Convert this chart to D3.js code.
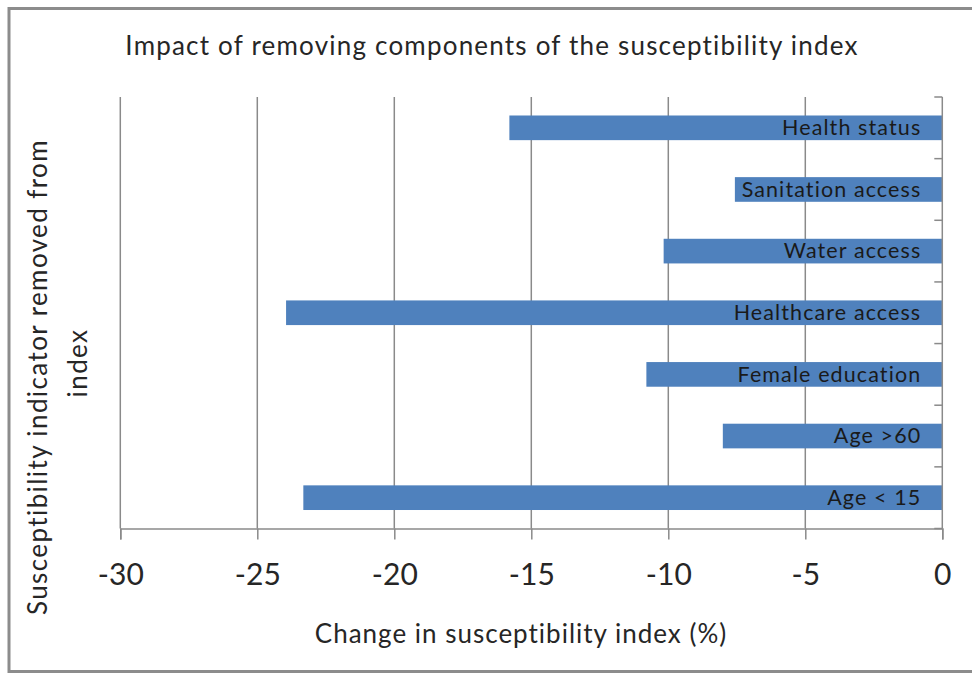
<!DOCTYPE html>
<html>
<head>
<meta charset="utf-8">
<script src="https://cdn.jsdelivr.net/npm/d3@7/dist/d3.min.js"></script>
<style>
  html, body { margin: 0; padding: 0; background: #fff; }
  svg { display: block; }
  text { font-family: Lato, "Open Sans", sans-serif; fill: #262626; font-variant-ligatures: none; }
</style>
</head>
<body>
<svg id="chart" width="972" height="673"></svg>
<script>
// Components removed from the index, top to bottom
const categories = ["Health status", "Sanitation access", "Water access", "Healthcare access",
                    "Female education", "Age >60", "Age < 15"];
// Change in susceptibility index (%) when each component is removed
const changes = [-15.8, -7.57, -10.17, -23.95, -10.8, -8.01, -23.32];
const xTicks = [-30, -25, -20, -15, -10, -5, 0];

const titleText = "Impact of removing components of the susceptibility index";
const xTitle = "Change in susceptibility index (%)";
const yTitleLines = ["Susceptibility indicator removed from", "index"];

const svg = d3.select("#chart");
const W = 972, H = 673;
const plot = { left: 120.3, right: 942.3, top: 97, bottom: 528.5 };

svg.append("rect").attr("width", W).attr("height", H).attr("fill", "#fff");

// outer frame
svg.append("rect")
  .attr("x", 9).attr("y", 8.5).attr("width", 1000).attr("height", 663)
  .attr("fill", "none").attr("stroke", "#8c8c8c").attr("stroke-width", 3);

const x = d3.scaleLinear().domain([-30, 0]).range([plot.left, plot.right]);
const y = d3.scaleBand().domain(categories).range([plot.top, plot.bottom]).paddingInner(0.6).paddingOuter(0.3);

// vertical gridlines
svg.append("g").selectAll("line").data(xTicks.filter(t => t !== 0)).join("line")
  .attr("x1", d => x(d)).attr("x2", d => x(d))
  .attr("y1", plot.top).attr("y2", plot.bottom)
  .attr("stroke", "#8a8a8a").attr("stroke-width", 1.5);

// bars
svg.append("g").selectAll("rect").data(categories).join("rect")
  .attr("x", (d, i) => x(changes[i]))
  .attr("width", (d, i) => x(0) - x(changes[i]))
  .attr("y", d => y(d))
  .attr("height", y.bandwidth())
  .attr("fill", "#4f81bd");

// category labels inside the bars, right-aligned near the zero line
svg.append("g").selectAll("text").data(categories).join("text")
  .attr("x", x(0) - 21)
  .attr("y", d => y(d) + y.bandwidth() / 2)
  .attr("dy", "0.34em")
  .attr("text-anchor", "end")
  .attr("font-size", 21.5)
  .attr("letter-spacing", 1.1)
  .style("fill", "#1a1a1a")
  .text(d => d);

// bottom axis
const xAxis = d3.axisBottom(x).tickValues(xTicks).tickSize(11).tickPadding(24).tickFormat(d3.format("d"));
const gx = svg.append("g").attr("transform", `translate(0,${plot.bottom})`).call(xAxis);
gx.select(".domain").attr("stroke", "#8a8a8a").attr("stroke-width", 1.5);
gx.selectAll(".tick line").attr("stroke", "#8a8a8a").attr("stroke-width", 1.5);
gx.selectAll(".tick text").attr("font-size", 30).attr("font-family", "Lato, 'Open Sans', sans-serif")
  .style("fill", "#262626").text(d => d < 0 ? "-" + Math.abs(d) : d);

// vertical axis at zero with tick marks between categories
const bandEdges = categories.map(c => y(c) - y.step() * y.paddingInner() / 2).concat([plot.bottom]);
svg.append("line")
  .attr("x1", x(0)).attr("x2", x(0)).attr("y1", plot.top).attr("y2", plot.bottom)
  .attr("stroke", "#8a8a8a").attr("stroke-width", 1.5);
svg.append("g").selectAll("line").data(bandEdges).join("line")
  .attr("x1", x(0) - 8).attr("x2", x(0))
  .attr("y1", d => d).attr("y2", d => d)
  .attr("stroke", "#8a8a8a").attr("stroke-width", 1.5);

// chart title
svg.append("text")
  .attr("x", 492).attr("y", 55)
  .attr("text-anchor", "middle").attr("font-size", 26)
  .attr("letter-spacing", 1.2)
  .text(titleText);

// x-axis title
svg.append("text")
  .attr("x", 521).attr("y", 643)
  .attr("text-anchor", "middle").attr("font-size", 26)
  .attr("letter-spacing", 1.0)
  .text(xTitle);

// y-axis title, two rotated lines
const yCenters = [377, 363];
const yBaselines = [47, 87];
yTitleLines.forEach((line, i) => {
  svg.append("text")
    .attr("transform", `translate(${yBaselines[i]},${yCenters[i]}) rotate(-90)`)
    .attr("text-anchor", "middle").attr("font-size", 26)
    .attr("letter-spacing", 1.4)
    .text(line);
});
</script>
</body>
</html>
